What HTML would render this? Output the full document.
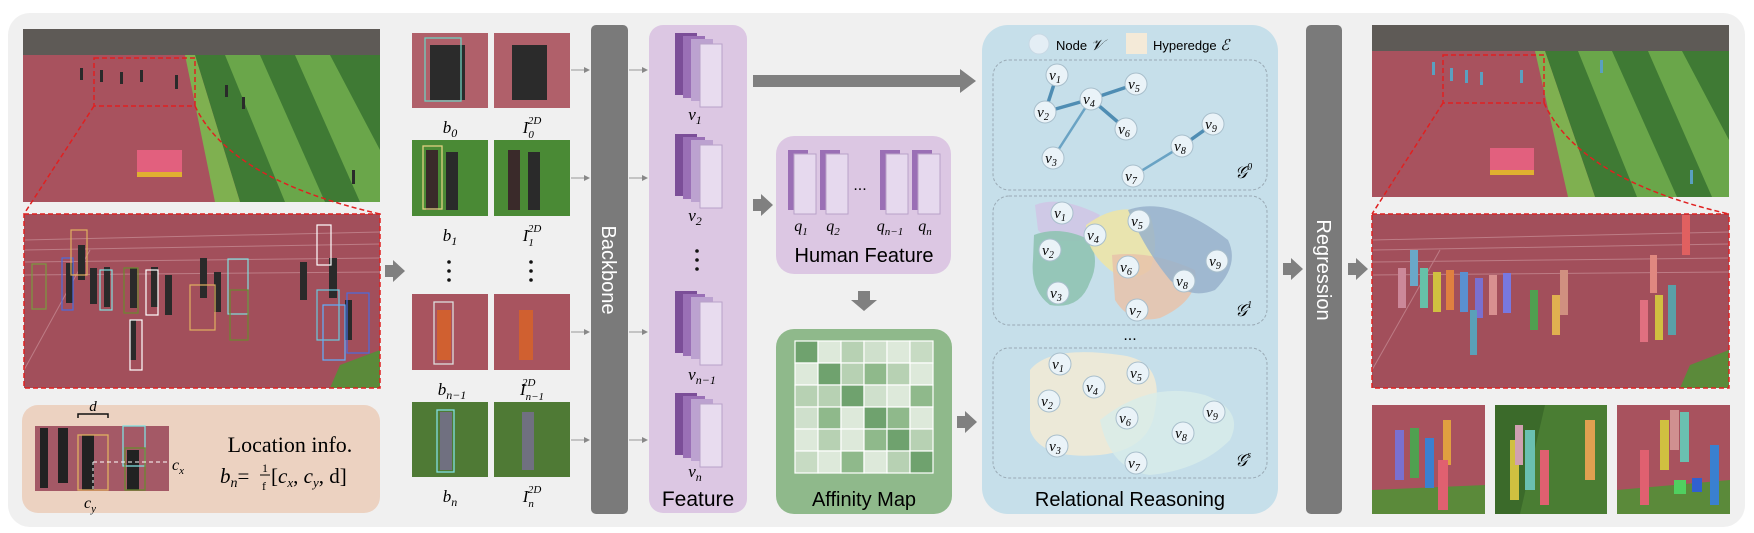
<!DOCTYPE html>
<html><head><meta charset="utf-8"><style>
html,body{margin:0;padding:0;background:#fff;}
svg{display:block;}
.s{font-family:"Liberation Sans",sans-serif;}
.m{font-family:"Liberation Serif",serif;font-style:italic;}
</style></head><body>
<svg width="1754" height="533" viewBox="0 0 1754 533" xmlns="http://www.w3.org/2000/svg">
<defs>
<marker id="ah" markerWidth="6" markerHeight="6" refX="5" refY="3" orient="auto"><path d="M0,0 L6,3 L0,6z" fill="#888"/></marker>
<g id="stack">
<rect x="0" y="0" width="22" height="62" fill="#7b4e98"/>
<rect x="8" y="3" width="22" height="62" fill="#9a70b6"/>
<rect x="16" y="6" width="22" height="62" fill="#bca2d0"/>
<rect x="25" y="11" width="22" height="63" fill="#e8dcef" stroke="#b9a2c8"/>
</g>
<g id="q">
<rect x="0" y="0" width="9" height="60" fill="#9a6fb5"/>
<rect x="0" y="0" width="20" height="4" fill="#9a6fb5"/>
<rect x="6" y="4" width="22" height="60" fill="#e6d9ee" stroke="#b9a2c8"/>
</g>
<g id="bigarrow"><path d="M0,-6 H8 V-11 L20,0 L8,11 V6 H0z" fill="#808080"/></g>
</defs>

<rect x="8" y="13" width="1737" height="514" rx="22" fill="#f0f0f0"/>

<!-- Left top photo -->
<rect x="23" y="29" width="357" height="173" fill="#a8525e"/>
<rect x="23" y="29" width="357" height="26" fill="#5e5a56"/>
<polygon points="195,55 380,55 380,202 240,202" fill="#3f7a34"/>
<polygon points="225,55 260,55 325,202 285,202" fill="#6aa64a"/>
<polygon points="295,55 330,55 380,150 380,202 360,202" fill="#6aa64a"/>
<polygon points="185,55 195,55 240,202 215,202" fill="#7fb050"/>
<rect x="137" y="150" width="45" height="26" fill="#e2607e"/>
<rect x="137" y="172" width="45" height="5" fill="#e0b030"/>
<rect x="94" y="58" width="101" height="48" fill="none" stroke="#e02020" stroke-width="1.5" stroke-dasharray="5,3"/>
<line x1="94" y1="106" x2="24" y2="214" stroke="#e02020" stroke-width="1.5" stroke-dasharray="5,3"/>
<path d="M195,106 Q230,180 380,214" fill="none" stroke="#e02020" stroke-width="1.5" stroke-dasharray="5,3"/>
<g fill="#2a2a2a"><rect x="80" y="68" width="3" height="12"/><rect x="100" y="70" width="3" height="12"/><rect x="120" y="72" width="3" height="12"/><rect x="140" y="70" width="3" height="12"/><rect x="175" y="75" width="3" height="14"/><rect x="225" y="85" width="3" height="12"/><rect x="242" y="97" width="3" height="12"/><rect x="352" y="170" width="3" height="14"/></g>

<!-- Left zoom photo -->
<rect x="24" y="214" width="356" height="174" fill="#a24f5b"/>
<g stroke="#c98f98" stroke-width="1" opacity="0.7"><line x1="24" y1="240" x2="380" y2="232"/><line x1="24" y1="250" x2="380" y2="244"/><line x1="24" y1="262" x2="380" y2="258"/><line x1="24" y1="275" x2="380" y2="272"/><line x1="24" y1="370" x2="90" y2="250"/></g>
<polygon points="340,365 380,350 380,388 330,388" fill="#5b8a3a"/>
<g fill="#2a2a2a"><rect x="78" y="245" width="7" height="35"/><rect x="66" y="263" width="7" height="40"/><rect x="90" y="268" width="7" height="36"/><rect x="104" y="267" width="6" height="40"/><rect x="130" y="268" width="7" height="40"/><rect x="151" y="267" width="7" height="40"/><rect x="165" y="275" width="7" height="40"/><rect x="200" y="258" width="7" height="40"/><rect x="214" y="272" width="7" height="40"/><rect x="130" y="320" width="6" height="40"/><rect x="300" y="262" width="7" height="38"/><rect x="329" y="258" width="8" height="40"/><rect x="345" y="300" width="7" height="40"/></g>
<g fill="none" stroke-width="1.2"><rect x="32" y="264" width="14" height="45" stroke="#7a9a40"/><rect x="62" y="258" width="11" height="52" stroke="#4a6ce0"/><rect x="71" y="230" width="16" height="45" stroke="#e0b060"/><rect x="100" y="270" width="12" height="40" stroke="#80e0e0"/><rect x="124" y="268" width="14" height="45" stroke="#6a8a30"/><rect x="146" y="270" width="12" height="45" stroke="#ffffff"/><rect x="190" y="285" width="25" height="45" stroke="#e0b060"/><rect x="228" y="259" width="20" height="55" stroke="#80e0e0"/><rect x="230" y="290" width="18" height="50" stroke="#6a8a30"/><rect x="130" y="320" width="12" height="50" stroke="#ffffff"/><rect x="317" y="290" width="22" height="50" stroke="#6acae0"/><rect x="323" y="305" width="22" height="55" stroke="#60b0ff"/><rect x="347" y="293" width="22" height="60" stroke="#4a6ce0"/><rect x="317" y="225" width="14" height="40" stroke="#ffffff"/></g>
<rect x="24" y="214" width="356" height="174" fill="none" stroke="#e02020" stroke-width="1.5" stroke-dasharray="5,3"/>

<!-- location box -->
<rect x="22" y="405" width="358" height="108" rx="16" fill="#ecd2c1"/>
<rect x="35" y="426" width="134" height="65" fill="#a45966"/>
<g fill="#222"><rect x="40" y="428" width="8" height="60"/><rect x="58" y="428" width="10" height="55"/><rect x="82" y="435" width="12" height="55"/><rect x="127" y="450" width="12" height="40"/></g>
<rect x="78" y="435" width="30" height="55" fill="none" stroke="#e0b060" stroke-width="1.3"/>
<rect x="123" y="426" width="22" height="40" fill="none" stroke="#80e0e0" stroke-width="1.3"/>
<rect x="125" y="448" width="20" height="42" fill="none" stroke="#6a8a30" stroke-width="1.3"/>
<line x1="93" y1="462" x2="169" y2="462" stroke="#fff" stroke-dasharray="4,3"/>
<line x1="93" y1="462" x2="93" y2="490" stroke="#fff" stroke-dasharray="3,3"/>
<path d="M78,418 V414 H108 V418" fill="none" stroke="#111" stroke-width="1.5"/>
<text x="93" y="411" class="m" font-size="15" font-style="normal" text-anchor="middle">d</text>
<text x="172" y="470" class="m" font-size="16">c<tspan font-size="11" dy="4">x</tspan></text>
<text x="84" y="508" class="m" font-size="16">c<tspan font-size="11" dy="4">y</tspan></text>
<text x="290" y="452" font-family="Liberation Serif,serif" font-size="22" text-anchor="middle">Location info.</text>
<text x="220" y="483" class="m" font-size="21">b<tspan font-size="14" dy="4">n</tspan><tspan dy="-4" font-style="normal">=</tspan></text>
<text x="262" y="472" font-family="Liberation Serif,serif" font-size="12">1</text>
<line x1="260" y1="475" x2="270" y2="475" stroke="#000" stroke-width="1"/>
<text x="262" y="490" font-family="Liberation Serif,serif" font-size="12">f</text>
<text x="271" y="483" class="m" font-size="21"><tspan font-style="normal">[</tspan>c<tspan font-size="13" dy="4">x</tspan><tspan dy="-4" font-style="normal">, </tspan>c<tspan font-size="13" dy="4">y</tspan><tspan dy="-4" font-style="normal">, d]</tspan></text>

<!-- arrow to crops -->
<use href="#bigarrow" x="385" y="271"/>

<!-- crops -->
<rect x="412" y="33" width="76" height="75" fill="#b0606a"/><rect x="494" y="33" width="76" height="75" fill="#b0606a"/>
<rect x="430" y="45" width="35" height="55" fill="#2b2b2b"/><rect x="512" y="45" width="35" height="55" fill="#2b2b2b"/>
<rect x="425" y="38" width="36" height="63" fill="none" stroke="#70d0c0" stroke-width="1.3"/>
<rect x="412" y="140" width="76" height="76" fill="#4a8a35"/><rect x="494" y="140" width="76" height="76" fill="#4a8a35"/>
<rect x="426" y="150" width="12" height="60" fill="#3a2a2a"/><rect x="446" y="152" width="12" height="58" fill="#2a2a2a"/><rect x="508" y="150" width="12" height="60" fill="#3a2a2a"/><rect x="528" y="152" width="12" height="58" fill="#2a2a2a"/>
<rect x="423" y="146" width="19" height="63" fill="none" stroke="#e0d080" stroke-width="1.3"/>
<rect x="412" y="294" width="76" height="76" fill="#a8545f"/><rect x="494" y="294" width="76" height="76" fill="#a8545f"/>
<rect x="437" y="310" width="14" height="50" fill="#d06030"/><rect x="519" y="310" width="14" height="50" fill="#d06030"/>
<rect x="434" y="302" width="19" height="62" fill="none" stroke="#ddd" stroke-width="1.3"/>
<rect x="412" y="402" width="76" height="75" fill="#4f7a35"/><rect x="494" y="402" width="76" height="75" fill="#4f7a35"/>
<rect x="440" y="412" width="12" height="58" fill="#707080"/><rect x="522" y="412" width="12" height="58" fill="#707080"/>
<rect x="437" y="410" width="17" height="62" fill="none" stroke="#80e0e0" stroke-width="1.3"/>
<g class="m" font-size="17" text-anchor="middle">
<text x="450" y="133">b<tspan font-size="12" dy="4">0</tspan></text>
<text x="532" y="133">I<tspan font-size="11" dy="5">0</tspan><tspan font-size="11" dx="-6" dy="-14">2D</tspan></text>
<text x="450" y="241">b<tspan font-size="12" dy="4">1</tspan></text>
<text x="532" y="241">I<tspan font-size="11" dy="5">1</tspan><tspan font-size="11" dx="-6" dy="-14">2D</tspan></text>
<text x="452" y="395">b<tspan font-size="12" dy="4">n−1</tspan></text>
<text x="532" y="395">I<tspan font-size="11" dy="5">n−1</tspan><tspan font-size="11" dx="-22" dy="-14">2D</tspan></text>
<text x="450" y="502">b<tspan font-size="12" dy="4">n</tspan></text>
<text x="532" y="502">I<tspan font-size="11" dy="5">n</tspan><tspan font-size="11" dx="-6" dy="-14">2D</tspan></text>
</g>
<g fill="#111"><circle cx="449" cy="262" r="1.8"/><circle cx="449" cy="271" r="1.8"/><circle cx="449" cy="280" r="1.8"/><circle cx="531" cy="262" r="1.8"/><circle cx="531" cy="271" r="1.8"/><circle cx="531" cy="280" r="1.8"/></g>

<!-- small connectors -->
<g stroke="#999" stroke-width="1" marker-end="url(#ah)">
<line x1="571" y1="70" x2="589" y2="70"/><line x1="571" y1="178" x2="589" y2="178"/><line x1="571" y1="332" x2="589" y2="332"/><line x1="571" y1="440" x2="589" y2="440"/>
<line x1="629" y1="70" x2="647" y2="70"/><line x1="629" y1="178" x2="647" y2="178"/><line x1="629" y1="332" x2="647" y2="332"/><line x1="629" y1="440" x2="647" y2="440"/>
</g>

<!-- backbone -->
<rect x="591" y="25" width="37" height="489" rx="5" fill="#7a7a7a"/>
<text transform="translate(602,270) rotate(90)" class="s" font-size="20" fill="#fff" text-anchor="middle">Backbone</text>

<!-- Feature -->
<rect x="649" y="25" width="98" height="488" rx="14" fill="#dcc7e3"/>
<use href="#stack" x="675" y="33"/>
<use href="#stack" x="675" y="134"/>
<use href="#stack" x="675" y="291"/>
<use href="#stack" x="675" y="393"/>
<g class="m" font-size="17" text-anchor="middle">
<text x="695" y="120">v<tspan font-size="12" dy="4">1</tspan></text>
<text x="695" y="221">v<tspan font-size="12" dy="4">2</tspan></text>
<text x="702" y="380">v<tspan font-size="12" dy="4">n−1</tspan></text>
<text x="695" y="477">v<tspan font-size="12" dy="4">n</tspan></text>
</g>
<g fill="#111"><circle cx="697" cy="251" r="1.8"/><circle cx="697" cy="260" r="1.8"/><circle cx="697" cy="269" r="1.8"/></g>
<text x="698" y="506" class="s" font-size="21" text-anchor="middle">Feature</text>

<!-- big arrow top -->
<path d="M753,75 H960 V69 L976,81 L960,93 V87 H753z" fill="#808080"/>
<use href="#bigarrow" x="753" y="205"/>

<!-- Human feature -->
<rect x="776" y="136" width="175" height="138" rx="18" fill="#dcc7e3"/>
<use href="#q" x="788" y="150"/>
<use href="#q" x="820" y="150"/>
<use href="#q" x="880" y="150"/>
<use href="#q" x="912" y="150"/>
<text x="860" y="190" class="s" font-size="16" text-anchor="middle">...</text>
<g class="m" font-size="16" text-anchor="middle">
<text x="801" y="231">q<tspan font-size="11" dy="4">1</tspan></text>
<text x="833" y="231">q<tspan font-size="11" dy="4">2</tspan></text>
<text x="890" y="231">q<tspan font-size="11" dy="4">n−1</tspan></text>
<text x="925" y="231">q<tspan font-size="11" dy="4">n</tspan></text>
</g>
<text x="864" y="262" class="s" font-size="20" text-anchor="middle">Human Feature</text>
<path d="M858,291 H870 V300 H877 L864,311 L851,300 H858z" fill="#808080"/>

<!-- Affinity map -->
<rect x="776" y="329" width="176" height="185" rx="18" fill="#8fb98b"/>
<g stroke="#fff" stroke-width="1.2">
<rect x="795" y="341" width="23" height="22" fill="#6fa26e"/><rect x="818" y="341" width="23" height="22" fill="#dde9da"/><rect x="841" y="341" width="23" height="22" fill="#b7d1b3"/><rect x="864" y="341" width="23" height="22" fill="#cfe0cc"/><rect x="887" y="341" width="23" height="22" fill="#dde9da"/><rect x="910" y="341" width="23" height="22" fill="#c7dbc3"/>
<rect x="795" y="363" width="23" height="22" fill="#dde9da"/><rect x="818" y="363" width="23" height="22" fill="#6fa26e"/><rect x="841" y="363" width="23" height="22" fill="#b7d1b3"/><rect x="864" y="363" width="23" height="22" fill="#8fb98b"/><rect x="887" y="363" width="23" height="22" fill="#b7d1b3"/><rect x="910" y="363" width="23" height="22" fill="#dde9da"/>
<rect x="795" y="385" width="23" height="22" fill="#b7d1b3"/><rect x="818" y="385" width="23" height="22" fill="#b7d1b3"/><rect x="841" y="385" width="23" height="22" fill="#6fa26e"/><rect x="864" y="385" width="23" height="22" fill="#cfe0cc"/><rect x="887" y="385" width="23" height="22" fill="#dde9da"/><rect x="910" y="385" width="23" height="22" fill="#8fb98b"/>
<rect x="795" y="407" width="23" height="22" fill="#cfe0cc"/><rect x="818" y="407" width="23" height="22" fill="#8fb98b"/><rect x="841" y="407" width="23" height="22" fill="#dde9da"/><rect x="864" y="407" width="23" height="22" fill="#6fa26e"/><rect x="887" y="407" width="23" height="22" fill="#8fb98b"/><rect x="910" y="407" width="23" height="22" fill="#dde9da"/>
<rect x="795" y="429" width="23" height="22" fill="#dde9da"/><rect x="818" y="429" width="23" height="22" fill="#b7d1b3"/><rect x="841" y="429" width="23" height="22" fill="#dde9da"/><rect x="864" y="429" width="23" height="22" fill="#8fb98b"/><rect x="887" y="429" width="23" height="22" fill="#6fa26e"/><rect x="910" y="429" width="23" height="22" fill="#b7d1b3"/>
<rect x="795" y="451" width="23" height="22" fill="#c7dbc3"/><rect x="818" y="451" width="23" height="22" fill="#dde9da"/><rect x="841" y="451" width="23" height="22" fill="#8fb98b"/><rect x="864" y="451" width="23" height="22" fill="#dde9da"/><rect x="887" y="451" width="23" height="22" fill="#b7d1b3"/><rect x="910" y="451" width="23" height="22" fill="#6fa26e"/>
</g>
<text x="864" y="506" class="s" font-size="20" text-anchor="middle">Affinity Map</text>
<use href="#bigarrow" x="957" y="422"/>

<!-- Relational reasoning -->
<rect x="982" y="25" width="296" height="489" rx="26" fill="#c6dfea"/>
<circle cx="1039" cy="44" r="10" fill="#e4eef5" stroke="#c8d8e4"/>
<text x="1056" y="50" class="s" font-size="13">Node <tspan class="m" font-size="15">𝒱</tspan></text>
<rect x="1126" y="33" width="21" height="21" fill="#f4ead8"/>
<text x="1153" y="50" class="s" font-size="13">Hyperedge <tspan class="m" font-size="15">ℰ</tspan></text>
<g fill="none" stroke="#9aaab5" stroke-dasharray="3,2" stroke-width="1">
<rect x="993" y="60" width="274" height="130" rx="16"/>
<rect x="993" y="196" width="274" height="129" rx="16"/>
<rect x="993" y="348" width="274" height="130" rx="16"/>
</g>
<text x="1130" y="340" class="s" font-size="16" text-anchor="middle">...</text>
<!-- G0 edges -->
<g stroke="#4f8db3" stroke-width="3.5" stroke-linecap="round">
<line x1="1057" y1="75" x2="1045" y2="112"/><line x1="1045" y1="112" x2="1091" y2="99"/><line x1="1091" y1="99" x2="1136" y2="84"/><line x1="1091" y1="99" x2="1126" y2="129"/><line x1="1091" y1="99" x2="1053" y2="158" stroke-width="2.5" stroke="#6aa3c4"/><line x1="1133" y1="176" x2="1182" y2="146" stroke-width="2.5" stroke="#6aa3c4"/><line x1="1182" y1="146" x2="1213" y2="124"/>
</g>
<!-- G1 hyperedges -->
<path d="M1035,205 Q1060,195 1100,215 L1085,240 Q1050,245 1038,230z" fill="#cfc7e6" opacity="0.9"/>
<path d="M1034,235 Q1060,225 1090,240 Q1100,262 1090,282 Q1080,310 1050,305 Q1030,290 1033,260z" fill="#8fc3b3" opacity="0.9"/>
<path d="M1086,225 Q1120,200 1150,215 Q1160,245 1150,270 Q1130,285 1110,270 Q1085,250 1086,225z" fill="#ece4a8" opacity="0.9"/>
<path d="M1112,255 Q1150,250 1195,270 Q1200,300 1160,318 Q1130,325 1115,300z" fill="#e8c3aa" opacity="0.85"/>
<path d="M1128,210 Q1170,195 1228,240 Q1240,265 1215,290 Q1190,300 1170,280 Q1145,250 1128,210z" fill="#98b2cb" opacity="0.85"/>
<!-- Gs hyperedges -->
<path d="M1030,370 Q1050,345 1120,355 Q1165,360 1155,410 Q1150,450 1100,455 Q1040,460 1030,430z" fill="#f0ead6" opacity="0.9"/>
<path d="M1100,420 Q1150,380 1205,395 Q1245,410 1230,440 Q1200,470 1150,475 Q1110,470 1100,420z" fill="#d8ecea" opacity="0.8"/>
<!-- nodes -->
<g id="nodes0">
<g fill="#eaf3f8" stroke="#a9bfcc" stroke-width="1">
<circle cx="1057" cy="75" r="11"/><circle cx="1045" cy="112" r="11"/><circle cx="1091" cy="99" r="11"/><circle cx="1136" cy="84" r="11"/><circle cx="1126" cy="129" r="11"/><circle cx="1053" cy="158" r="11"/><circle cx="1133" cy="176" r="11"/><circle cx="1182" cy="146" r="11"/><circle cx="1213" cy="124" r="11"/>
<circle cx="1062" cy="213" r="11"/><circle cx="1050" cy="250" r="11"/><circle cx="1095" cy="235" r="11"/><circle cx="1139" cy="221" r="11"/><circle cx="1128" cy="267" r="11"/><circle cx="1058" cy="293" r="11"/><circle cx="1137" cy="310" r="11"/><circle cx="1184" cy="281" r="11"/><circle cx="1217" cy="261" r="11"/>
<circle cx="1060" cy="364" r="11"/><circle cx="1049" cy="401" r="11"/><circle cx="1094" cy="387" r="11"/><circle cx="1138" cy="373" r="11"/><circle cx="1127" cy="418" r="11"/><circle cx="1057" cy="446" r="11"/><circle cx="1136" cy="463" r="11"/><circle cx="1183" cy="433" r="11"/><circle cx="1214" cy="412" r="11"/>
</g>
</g>
<g class="m" font-size="15" text-anchor="middle">
<text x="1055" y="80">v<tspan font-size="10" dy="3">1</tspan></text><text x="1043" y="117">v<tspan font-size="10" dy="3">2</tspan></text><text x="1089" y="104">v<tspan font-size="10" dy="3">4</tspan></text><text x="1134" y="89">v<tspan font-size="10" dy="3">5</tspan></text><text x="1124" y="134">v<tspan font-size="10" dy="3">6</tspan></text><text x="1051" y="163">v<tspan font-size="10" dy="3">3</tspan></text><text x="1131" y="181">v<tspan font-size="10" dy="3">7</tspan></text><text x="1180" y="151">v<tspan font-size="10" dy="3">8</tspan></text><text x="1211" y="129">v<tspan font-size="10" dy="3">9</tspan></text>
<text x="1060" y="218">v<tspan font-size="10" dy="3">1</tspan></text><text x="1048" y="255">v<tspan font-size="10" dy="3">2</tspan></text><text x="1093" y="240">v<tspan font-size="10" dy="3">4</tspan></text><text x="1137" y="226">v<tspan font-size="10" dy="3">5</tspan></text><text x="1126" y="272">v<tspan font-size="10" dy="3">6</tspan></text><text x="1056" y="298">v<tspan font-size="10" dy="3">3</tspan></text><text x="1135" y="315">v<tspan font-size="10" dy="3">7</tspan></text><text x="1182" y="286">v<tspan font-size="10" dy="3">8</tspan></text><text x="1215" y="266">v<tspan font-size="10" dy="3">9</tspan></text>
<text x="1058" y="369">v<tspan font-size="10" dy="3">1</tspan></text><text x="1047" y="406">v<tspan font-size="10" dy="3">2</tspan></text><text x="1092" y="392">v<tspan font-size="10" dy="3">4</tspan></text><text x="1136" y="378">v<tspan font-size="10" dy="3">5</tspan></text><text x="1125" y="423">v<tspan font-size="10" dy="3">6</tspan></text><text x="1055" y="451">v<tspan font-size="10" dy="3">3</tspan></text><text x="1134" y="468">v<tspan font-size="10" dy="3">7</tspan></text><text x="1181" y="438">v<tspan font-size="10" dy="3">8</tspan></text><text x="1212" y="417">v<tspan font-size="10" dy="3">9</tspan></text>
</g>
<g class="m" font-size="17">
<text x="1235" y="178">𝒢<tspan font-size="10" dy="-8">0</tspan></text>
<text x="1235" y="316">𝒢<tspan font-size="10" dy="-8">1</tspan></text>
<text x="1235" y="466">𝒢<tspan font-size="10" dy="-8">s</tspan></text>
</g>
<text x="1130" y="506" class="s" font-size="20" text-anchor="middle">Relational Reasoning</text>

<!-- regression -->
<use href="#bigarrow" x="1283" y="269"/>
<rect x="1306" y="25" width="36" height="489" rx="5" fill="#7a7a7a"/>
<text transform="translate(1317,270) rotate(90)" class="s" font-size="20" fill="#fff" text-anchor="middle">Regression</text>
<use href="#bigarrow" x="1348" y="269"/>

<!-- right top photo -->
<rect x="1372" y="25" width="357" height="172" fill="#a8525e"/>
<rect x="1372" y="25" width="357" height="26" fill="#5e5a56"/>
<polygon points="1545,51 1729,51 1729,197 1595,197" fill="#3f7a34"/>
<polygon points="1578,51 1612,51 1677,197 1637,197" fill="#6aa64a"/>
<polygon points="1648,51 1682,51 1729,140 1729,197 1712,197" fill="#6aa64a"/>
<polygon points="1535,51 1545,51 1595,197 1568,197" fill="#7fb050"/>
<rect x="1490" y="148" width="44" height="26" fill="#e2607e"/>
<rect x="1490" y="170" width="44" height="5" fill="#e0b030"/>
<g fill="#5aa0c0"><rect x="1432" y="62" width="3" height="13"/><rect x="1450" y="68" width="3" height="13"/><rect x="1465" y="70" width="3" height="13"/><rect x="1480" y="72" width="3" height="13"/><rect x="1520" y="70" width="3" height="13"/><rect x="1600" y="60" width="3" height="13"/><rect x="1690" y="170" width="3" height="14"/></g>
<rect x="1443" y="55" width="101" height="48" fill="none" stroke="#e02020" stroke-width="1.5" stroke-dasharray="5,3"/>
<line x1="1443" y1="103" x2="1372" y2="214" stroke="#e02020" stroke-width="1.5" stroke-dasharray="5,3"/>
<path d="M1544,103 Q1580,180 1729,214" fill="none" stroke="#e02020" stroke-width="1.5" stroke-dasharray="5,3"/>

<!-- right zoom photo -->
<rect x="1372" y="214" width="357" height="174" fill="#a24f5b"/>
<g stroke="#c98f98" stroke-width="1" opacity="0.7"><line x1="1372" y1="240" x2="1729" y2="232"/><line x1="1372" y1="250" x2="1729" y2="244"/><line x1="1372" y1="262" x2="1729" y2="258"/><line x1="1372" y1="275" x2="1729" y2="272"/><line x1="1372" y1="370" x2="1440" y2="250"/></g>
<polygon points="1690,365 1729,350 1729,388 1680,388" fill="#5b8a3a"/>
<g><rect x="1410" y="250" width="8" height="36" fill="#6aa8c8"/><rect x="1398" y="268" width="8" height="40" fill="#cc8899"/><rect x="1420" y="268" width="8" height="40" fill="#66c0a8"/><rect x="1433" y="272" width="8" height="40" fill="#d0c040"/><rect x="1446" y="270" width="8" height="40" fill="#e08040"/><rect x="1460" y="272" width="8" height="40" fill="#5a90d0"/><rect x="1475" y="278" width="8" height="40" fill="#7a70d0"/><rect x="1489" y="275" width="8" height="40" fill="#d89090"/><rect x="1503" y="273" width="8" height="40" fill="#7878e0"/><rect x="1470" y="310" width="7" height="45" fill="#5aa0b8"/><rect x="1530" y="290" width="8" height="40" fill="#50a050"/><rect x="1560" y="270" width="8" height="45" fill="#d09080"/><rect x="1552" y="295" width="8" height="40" fill="#e0b050"/><rect x="1640" y="300" width="8" height="42" fill="#e07080"/><rect x="1655" y="295" width="8" height="45" fill="#d0c040"/><rect x="1668" y="285" width="8" height="50" fill="#5aa0a8"/><rect x="1650" y="255" width="7" height="38" fill="#e08880"/><rect x="1682" y="215" width="8" height="40" fill="#e06060"/></g>
<rect x="1372" y="214" width="357" height="174" fill="none" stroke="#e02020" stroke-width="1.5" stroke-dasharray="5,3"/>

<!-- bottom three -->
<rect x="1372" y="405" width="113" height="109" fill="#a8525e"/><polygon points="1372,490 1485,485 1485,514 1372,514" fill="#5b8a3a"/>
<g><rect x="1395" y="430" width="9" height="50" fill="#7a70d0"/><rect x="1410" y="428" width="9" height="50" fill="#50a050"/><rect x="1425" y="438" width="9" height="50" fill="#3a80d0"/><rect x="1443" y="420" width="8" height="45" fill="#e0a040"/><rect x="1438" y="460" width="10" height="50" fill="#e06070"/></g>
<rect x="1495" y="405" width="112" height="109" fill="#4a7d33"/><polygon points="1495,405 1545,405 1520,514 1495,514" fill="#3b6a2a"/>
<g><rect x="1510" y="440" width="9" height="60" fill="#d0c040"/><rect x="1525" y="430" width="10" height="60" fill="#6ac0b0"/><rect x="1540" y="450" width="9" height="55" fill="#e06070"/><rect x="1585" y="420" width="10" height="60" fill="#e0a050"/><rect x="1515" y="425" width="8" height="40" fill="#d0a0b0"/></g>
<rect x="1617" y="405" width="113" height="109" fill="#a8525e"/><polygon points="1617,490 1730,480 1730,514 1617,514" fill="#5b8a3a"/>
<g><rect x="1640" y="450" width="9" height="55" fill="#e06070"/><rect x="1660" y="420" width="9" height="50" fill="#d0c040"/><rect x="1680" y="412" width="9" height="50" fill="#6ac0b0"/><rect x="1670" y="410" width="9" height="40" fill="#d09090"/><rect x="1710" y="445" width="9" height="60" fill="#3a80d0"/><rect x="1674" y="480" width="12" height="14" fill="#50d060"/><rect x="1692" y="478" width="10" height="14" fill="#3060d0"/></g>
</svg>
</body></html>
